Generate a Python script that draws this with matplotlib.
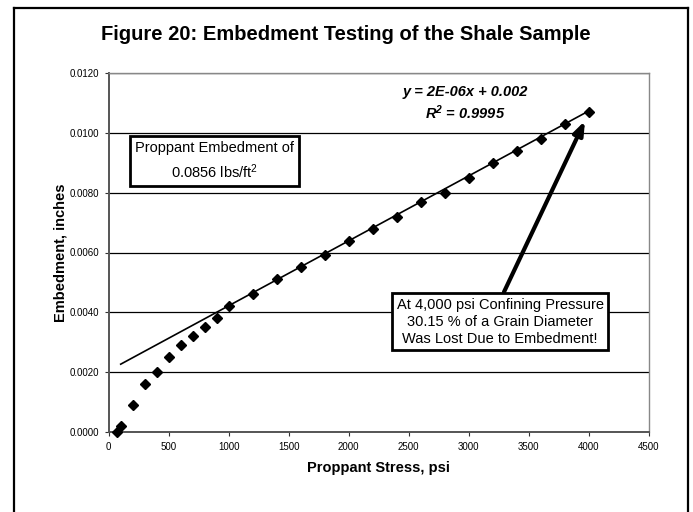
import matplotlib
matplotlib.use("Agg")
import matplotlib.pyplot as plt
from matplotlib.lines import Line2D

# ---- data ----
stress_psi = [70, 100, 200, 300, 400, 500, 600, 700, 800, 900, 1000, 1200,
              1400, 1600, 1800, 2000, 2200, 2400, 2600, 2800, 3000, 3200,
              3400, 3600, 3800, 4000]
embedment_in = [0.0000, 0.0002, 0.0009, 0.0016, 0.0020, 0.0025, 0.0029, 0.0032,
                0.0035, 0.0038, 0.0042, 0.0046, 0.0051, 0.0055, 0.0059, 0.0064,
                0.0068, 0.0072, 0.0077, 0.0080, 0.0085, 0.0090, 0.0094, 0.0098,
                0.0103, 0.0107]
trend_slope = 2.17e-06
trend_intercept = 0.00205
trend_x = [100, 4000]

x_ticks = [0, 500, 1000, 1500, 2000, 2500, 3000, 3500, 4000, 4500]
y_ticks = [0.0, 0.002, 0.004, 0.006, 0.008, 0.010, 0.012]

title = "Figure 20: Embedment Testing of the Shale Sample"
xlabel = "Proppant Stress, psi"
ylabel = "Embedment, inches"
eq_text = "y = 2E-06x + 0.002"
r2_text = r"R$^{\mathbf{2}}$ = 0.9995"
box1_text = "Proppant Embedment of\n0.0856 lbs/ft$^2$"
box2_text = "At 4,000 psi Confining Pressure\n30.15 % of a Grain Diameter\nWas Lost Due to Embedment!"

plt.rcParams['font.family'] = ['Liberation Sans', 'DejaVu Sans']
plt.rcParams['mathtext.fontset'] = 'custom'
plt.rcParams['mathtext.rm'] = 'Liberation Sans'
plt.rcParams['mathtext.it'] = 'Liberation Sans:italic'
plt.rcParams['mathtext.bf'] = 'Liberation Sans:bold:italic'

fig = plt.figure(figsize=(6.93, 5.12), dpi=100)
ax = fig.add_axes([108.7/693, 1-432/512, 540/693, 359/512])

# outer frame
W, H = 693, 512
for (x0, y0, x1, y1) in [(14, 8, 688, 8), (14, 8, 14, 515), (688, 8, 688, 515)]:
    fig.add_artist(Line2D([x0/W, x1/W], [1-y0/H, 1-y1/H], color='black',
                          lw=1.6, transform=fig.transFigure))

ax.set_xlim(0, 4500)
ax.set_ylim(0, 0.012)
ax.set_xticks(x_ticks)
ax.set_xticklabels([str(v) for v in x_ticks])
ax.set_yticks(y_ticks)
ax.set_yticklabels([f"{v:.4f}" for v in y_ticks])
ax.tick_params(axis='both', labelsize=7, direction='out', length=3, width=0.8,
               colors='#333333', labelcolor='black', pad=4)
ax.yaxis.grid(True, color='black', lw=0.9)
ax.set_axisbelow(True)
for s in ['top', 'right']:
    ax.spines[s].set_color('#888888')
    ax.spines[s].set_linewidth(1.0)
for s in ['left', 'bottom']:
    ax.spines[s].set_color('#555555')
    ax.spines[s].set_linewidth(1.4)

# trendline
ty = [trend_slope * x + trend_intercept for x in trend_x]
ax.plot(trend_x, ty, color='black', lw=1.2, zorder=3)
# data
ax.plot(stress_psi, embedment_in, linestyle='none', marker='D', markersize=5.3,
        color='black', zorder=4, clip_on=False)

ax.set_xlabel(xlabel, fontsize=10.5, fontweight='bold', labelpad=7)
ax.set_ylabel(ylabel, fontsize=10.5, fontweight='bold', labelpad=1)

fig.text(346/W, 1-34/H, title, ha='center', va='center', fontsize=14.5,
         fontweight='bold', family=['Liberation Sans Narrow', 'Liberation Sans'])

ax.text(2969, 0.01136, eq_text, ha='center', va='center', fontsize=10.5,
        fontweight='bold', style='italic')
ax.text(2969, 0.01066, r2_text, ha='center', va='center', fontsize=10.5,
        fontweight='bold', style='italic')

ax.text(879, 0.00906, box1_text, ha='center', va='center', fontsize=10.5,
        linespacing=1.45,
        bbox=dict(boxstyle='square,pad=0.35', fc='white', ec='black', lw=2), zorder=6)

ax.annotate('', xy=(3969, 0.0104), xytext=(3294, 0.00468),
            arrowprops=dict(arrowstyle='-|>,head_length=0.8,head_width=0.3',
                            color='black', lw=3, shrinkA=0, shrinkB=0), zorder=5)
ax.text(3261, 0.00368, box2_text, ha='center', va='center', fontsize=10.5,
        linespacing=1.28,
        bbox=dict(boxstyle='square,pad=0.3', fc='white', ec='black', lw=2), zorder=6)

fig.savefig("out.png", dpi=100)
